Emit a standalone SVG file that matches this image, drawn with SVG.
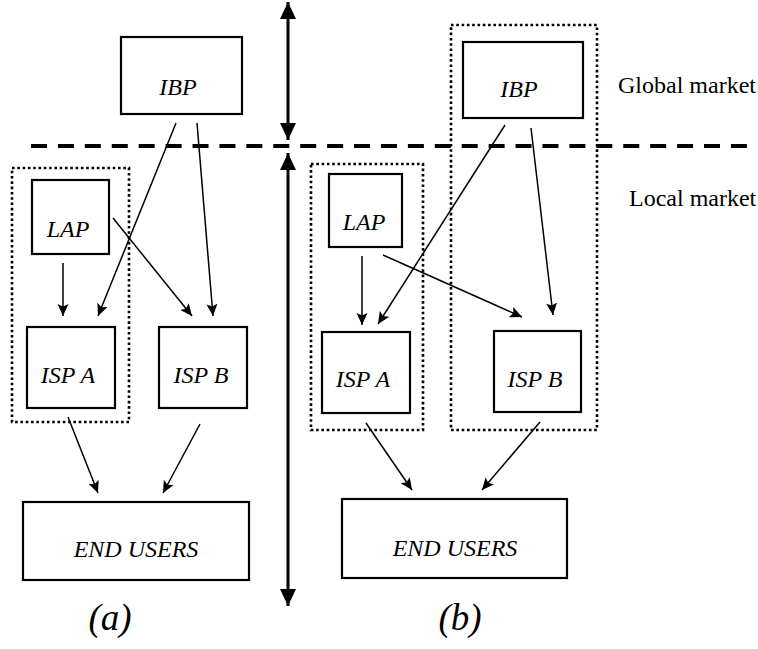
<svg xmlns="http://www.w3.org/2000/svg" width="758" height="649" viewBox="0 0 758 649">
<defs>
<style>
.box{fill:#fff;stroke:#000;stroke-width:2.2}
.grp{fill:none;stroke:#000;stroke-width:2.6;stroke-dasharray:2.6 2.7}
.lbl{font-style:italic;font-size:24px;text-anchor:middle;fill:#000}
.cap{font-style:italic;font-size:37px;text-anchor:middle;fill:#000}
.mkt{font-size:24px;fill:#000}
.con{fill:none;stroke:#000;stroke-width:1.5;marker-end:url(#ah)}
.axis{fill:none;stroke:#000;stroke-width:3}
</style>
<marker id="ah" markerUnits="userSpaceOnUse" markerWidth="14" markerHeight="12" refX="12" refY="5.5" orient="auto">
<path d="M0,0 L12,5.5 L0,11 L2.5,5.5 z" fill="#000"/>
</marker>
<marker id="big" markerUnits="userSpaceOnUse" markerWidth="18" markerHeight="16" refX="17" refY="8" orient="auto-start-reverse">
<path d="M0,0 L17,8 L0,16 z" fill="#000"/>
</marker>
</defs>

<g id="divider" font-family="Liberation Serif, Times New Roman, DejaVu Serif, serif">
<line x1="31" y1="146" x2="750" y2="146" stroke="#000" stroke-width="4" stroke-dasharray="16 10.92"/>
<line class="axis" x1="288" y1="140" x2="288" y2="2" marker-start="url(#big)" marker-end="url(#big)"/>
<line class="axis" x1="288" y1="153" x2="288" y2="606" marker-start="url(#big)" marker-end="url(#big)"/>
<text class="mkt" x="618" y="93">Global market</text>
<text class="mkt" x="629" y="206">Local market</text>
</g>

<g id="groups">
<rect class="grp" x="12" y="168" width="117" height="254"/>
<rect class="grp" x="311" y="164" width="112" height="266"/>
<rect class="grp" x="451" y="25" width="146" height="405"/>
</g>

<g id="nodes" font-family="Liberation Serif, Times New Roman, DejaVu Serif, serif">
<g id="a-ibp"><rect class="box" x="121" y="37" width="121" height="77"/><text class="lbl" x="178" y="95">IBP</text></g>
<g id="a-lap"><rect class="box" x="32" y="180" width="77" height="74"/><text class="lbl" x="68" y="237">LAP</text></g>
<g id="a-ispa"><rect class="box" x="27" y="327" width="88" height="81"/><text class="lbl" x="68" y="383">ISP A</text></g>
<g id="a-ispb"><rect class="box" x="159" y="327" width="88" height="81"/><text class="lbl" x="201" y="383">ISP B</text></g>
<g id="a-end"><rect class="box" x="23" y="502" width="226" height="78"/><text class="lbl" x="136" y="557">END USERS</text></g>
<g id="a-label"><text class="cap" x="110" y="630">(a)</text></g>

<g id="b-ibp"><rect class="box" x="463" y="42" width="120" height="76"/><text class="lbl" x="519" y="97">IBP</text></g>
<g id="b-lap"><rect class="box" x="329" y="174" width="73" height="73"/><text class="lbl" x="364" y="230">LAP</text></g>
<g id="b-ispa"><rect class="box" x="322" y="332" width="88" height="81"/><text class="lbl" x="363" y="387">ISP A</text></g>
<g id="b-ispb"><rect class="box" x="494" y="331" width="87" height="81"/><text class="lbl" x="535" y="387">ISP B</text></g>
<g id="b-end"><rect class="box" x="342" y="499" width="225" height="79"/><text class="lbl" x="455" y="556">END USERS</text></g>
<g id="b-label"><text class="cap" x="460" y="630">(b)</text></g>
</g>

<g id="connectors">
<line class="con" x1="63" y1="263" x2="63" y2="316"/>
<line class="con" x1="176" y1="123" x2="98" y2="316"/>
<line class="con" x1="197" y1="123" x2="213" y2="316"/>
<line class="con" x1="113" y1="218" x2="192" y2="316"/>
<line class="con" x1="68" y1="417" x2="98" y2="493"/>
<line class="con" x1="200" y1="424" x2="163" y2="493"/>
<line class="con" x1="362" y1="256" x2="362" y2="325"/>
<line class="con" x1="383" y1="255" x2="522" y2="317"/>
<line class="con" x1="505" y1="125" x2="378" y2="324"/>
<line class="con" x1="531" y1="128" x2="553" y2="315"/>
<line class="con" x1="366" y1="423" x2="412" y2="490"/>
<line class="con" x1="540" y1="422" x2="482" y2="490"/>
</g>
</svg>
